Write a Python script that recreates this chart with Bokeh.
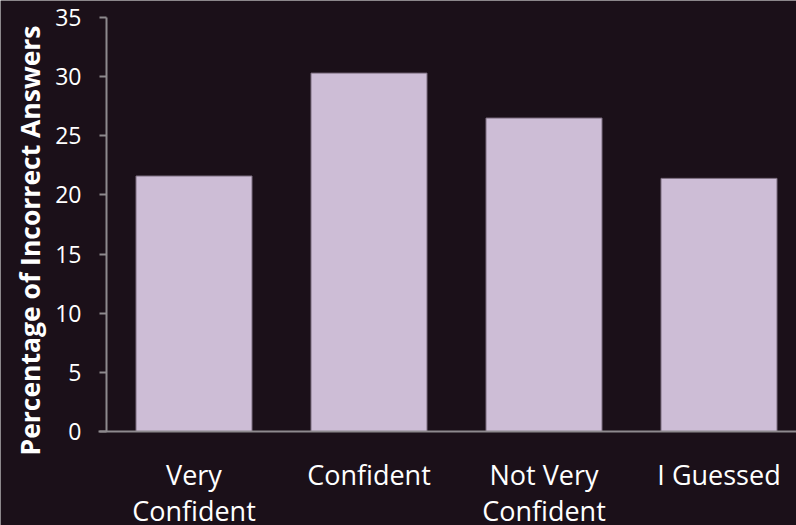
import math
from bokeh.plotting import figure
from bokeh.models import Range1d, FixedTicker, ColumnDataSource, LabelSet, Label
from bokeh.core.properties import value
from bokeh.embed import file_html
from bokeh.resources import INLINE

categories = ["Very\nConfident", "Confident", "Not Very\nConfident", "I Guessed"]
values = [21.6, 30.3, 26.5, 21.4]
y_ticks = [0, 5, 10, 15, 20, 25, 30, 35]
y_title = "Percentage of Incorrect Answers"

BG = "#1b1019"
BAR = "#cdbdd6"
AXIS = "#8e8a8e"
FONT = "Open Sans"

W, H = 796, 525
LEFT, TOP, BOTTOM = 106, 17, 94      # pixel position of the value axes
cat_px = 175                          # pixels per category
y_max = 35
px_per_unit = (H - TOP - BOTTOM) / y_max

xs = [i + 0.5 for i in range(len(categories))]
src = ColumnDataSource(dict(x=xs, top=values))

p = figure(width=W, height=H, output_backend="svg", toolbar_location=None,
           x_range=Range1d(-LEFT / cat_px, (W - LEFT) / cat_px),
           y_range=Range1d(-BOTTOM / px_per_unit, y_max + TOP / px_per_unit),
           min_border=0)
p.background_fill_color = BG
p.border_fill_color = BG
p.outline_line_color = None
p.xgrid.visible = False
p.ygrid.visible = False

p.vbar(x="x", top="top", width=0.663, bottom=0, source=src,
       fill_color=BAR, line_color="#7a6c7e", line_width=1)

xa = p.xaxis[0]
xa.fixed_location = 0
xa.bounds = (-8 / cat_px, (W - LEFT) / cat_px)
xa.ticker = FixedTicker(ticks=[])
xa.axis_line_color = AXIS
xa.axis_line_width = 2
xa.major_tick_line_color = None
xa.minor_tick_line_color = None

# category labels, one LabelSet per text line
line_gap_px = [53, 89]
for k, gap in enumerate(line_gap_px):
    texts = [(c.split("\n") + [""])[k] for c in categories]
    lab_src = ColumnDataSource(dict(x=xs, y=[-gap / px_per_unit] * len(xs), text=texts))
    p.add_layout(LabelSet(x="x", y="y", text="text", source=lab_src,
                          text_align="center", text_baseline="alphabetic",
                          text_color="white", text_font=value(FONT),
                          text_font_size=value("27px")))

ya = p.yaxis[0]
ya.fixed_location = 0
ya.bounds = (0, y_max)
ya.ticker = FixedTicker(ticks=y_ticks)
ya.axis_line_color = AXIS
ya.axis_line_width = 2
ya.major_tick_line_color = AXIS
ya.major_tick_line_width = 2
ya.major_tick_out = 7
ya.major_tick_in = 0
ya.minor_tick_line_color = None
ya.major_label_text_color = "white"
ya.major_label_text_font = FONT
ya.major_label_text_font_size = "23px"
ya.major_label_standoff = 18

p.add_layout(Label(x=-(LEFT - 29) / cat_px, y=(H - BOTTOM - 240) / px_per_unit, text=y_title,
                   angle=math.pi / 2, text_align="center", text_baseline="middle",
                   text_color="white", text_font=FONT, text_font_style="bold",
                   text_font_size="26.5px"))

open("out.html", "w").write(file_html(p, INLINE))
